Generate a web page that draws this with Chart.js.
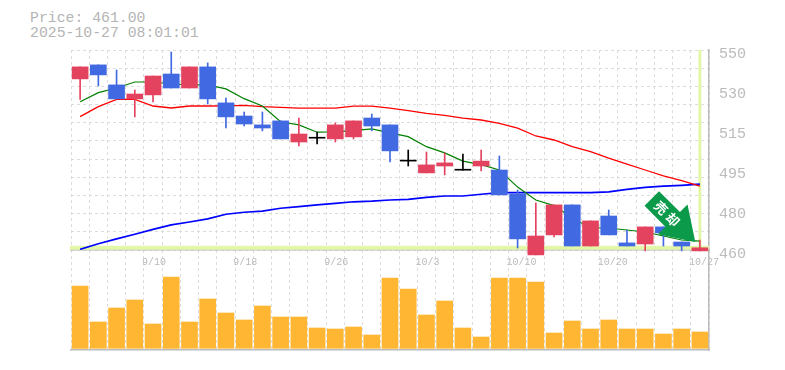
<!DOCTYPE html>
<html lang="ja">
<head>
<meta charset="utf-8">
<title>Price chart</title>
<script src="https://cdn.jsdelivr.net/npm/chart.js@4"></script>
<style>
html,body{margin:0;padding:0;background:#fff;width:785px;height:370px;overflow:hidden}
#t{position:absolute;left:30px;top:11px;font:14.8px/15px "Liberation Mono",monospace;color:#b4b4b4;white-space:pre}
canvas{position:absolute;left:0}
#a{top:0;z-index:2}
#b{top:250px;z-index:1}
</style>
</head>
<body>
<div id="t">Price: 461.00
2025-10-27 08:01:01</div>
<canvas id="b" width="785" height="120"></canvas>
<canvas id="a" width="785" height="270"></canvas>
<script>
const dates = ['9/4','9/5','9/8','9/9','9/10','9/11','9/12','9/16','9/17','9/18','9/19','9/22','9/24','9/25','9/26','9/29','9/30','10/1','10/2','10/3','10/6','10/7','10/8','10/9','10/10','10/14','10/15','10/16','10/17','10/20','10/21','10/22','10/23','10/24','10/27'];
const tickDates = ['9/10','9/18','9/26','10/3','10/10','10/20','10/27'];
const priceTickLabels = ['460','480','495','515','530','550'];

const open  = [537,543.3,534.3,528,529.8,539.2,532.9,542.4,526.2,520.3,516.3,518.1,508.6,510.3,510,510.9,519.4,516.3,500,494.7,497.8,495.9,497.8,496,485.2,457.8,466.8,480.3,461.8,475.3,463.2,462.7,470.4,463.6,459.6];
const close = [542.4,538.8,528,530.2,538.3,532.9,542.4,528,519.9,516.7,514.9,510,512.2,510.3,516.3,518.1,515.8,504.6,500,498.3,499.2,495.9,500,484.8,465,466.3,480.3,461.8,473.1,466.8,461.8,470.4,467.7,461.8,461];
const high  = [542.4,543.3,541,532,538.3,549.1,542.4,544.2,528.4,522.1,522.1,518.1,519.4,513.1,517.2,518.1,521.2,516.3,505,504.1,503.7,503.2,505,502.3,487,481.2,480.3,480.3,473.1,478,469,470.4,470.4,463.6,464.5];
const low   = [527.8,533.8,528,519.9,526.6,532.9,532.9,525.7,514.9,515.8,513.6,510,506.8,507.7,508.6,510,513.6,499.6,497.8,494.7,493.8,495.9,495.6,484.8,460.9,457.8,465.9,461.8,461.8,466.8,461.8,459.6,461.8,459.6,459.6];

const maShort = [526.7,530.8,532.9,535.6,535.6,534.7,534.3,534.3,532.5,528.1,524.8,517.7,516.3,513,513.2,513.7,514.5,512.7,511,506.5,503.7,500,498.4,496,488.3,482.5,480,474.4,469.9,469.9,469,468.1,466.3,464.5,464];
const maMid   = [520,524.5,527.8,527.8,524.8,523.9,524.8,524.8,524.9,525.1,524.5,524.2,523.8,523.8,523.8,524.7,524.7,523.8,522.7,521.5,520.6,519.3,518.5,517,514.8,511.3,509.5,506.5,504.3,501.3,498.6,496,493.4,491.2,488.7];
const maLong  = [460.3,462.8,465,467.1,469.3,471.3,472.6,474,476.1,477,477.5,478.8,479.5,480.3,481,481.7,482,482.5,482.8,483.7,484.3,484.3,485.1,485.8,485.8,485.8,485.8,485.8,485.8,486.2,487.3,488.2,488.7,489.1,489.6];

const volume = [623,263,403,483,243,713,263,493,353,283,423,313,313,203,193,213,133,703,593,333,473,203,113,703,703,663,153,273,193,283,193,193,143,193,163];

const lastPrice = 461;
const signalPrice = 463.6;
const signalText = ['売','却'];

const RED='#e3435f', BLUE='#4169e1', GREY='#bbbbbb', GRID='#dddddd', BAND='#e3f7a8', INK='#000000';
const candleColor = open.map((o,i)=> close[i]>o ? RED : close[i]<o ? BLUE : INK);
const sharedGrid = {color:GRID, lineWidth:1, drawTicks:false, offset:true};
const dash = [3,3];

const overlay = {
  id:'overlay',
  beforeDatasetsDraw(c){
    const {ctx,chartArea:a,scales:s}=c;
    const px=s.x.getPixelForValue(dates.length-1), py=s.y.getPixelForValue(lastPrice);
    ctx.save();
    ctx.fillStyle=BAND;
    ctx.fillRect(px-1.5,a.top,3,a.bottom-a.top);
    ctx.fillRect(a.left-1,py-2,a.right-a.left+1,4);
    ctx.restore();
  },
  afterDatasetsDraw(c){
    const {ctx,scales:s}=c;
    const tx=s.x.getPixelForValue(dates.length-1)-4.6, ty=s.y.getPixelForValue(signalPrice);
    ctx.save();
    ctx.translate(tx,ty);
    ctx.rotate(Math.PI/4);
    ctx.beginPath();
    ctx.moveTo(0,0);ctx.lineTo(-32,-21);ctx.lineTo(-32,-10.3);ctx.lineTo(-61.5,-10.3);
    ctx.lineTo(-61.5,10.3);ctx.lineTo(-32,10.3);ctx.lineTo(-32,21);ctx.closePath();
    ctx.fillStyle='#0a9a49';ctx.fill();
    ctx.fillStyle='#ffffff';
    ctx.font='bold 13px "Noto Sans CJK JP"';
    ctx.textAlign='center';ctx.textBaseline='middle';
    ctx.fillText(signalText[0],-48.4,0);
    ctx.fillText(signalText[1],-31.6,0);
    ctx.restore();
  }
};

new Chart(document.getElementById('a'),{
  data:{labels:dates,datasets:[
    {type:'bar',data:open.map((o,i)=>[o,close[i]]),backgroundColor:candleColor,barThickness:16,minBarLength:1,grouped:false,order:1,clip:false},
    {type:'bar',data:low.map((l,i)=>[l,high[i]]),backgroundColor:candleColor,barThickness:1,minBarLength:1,grouped:false,order:2,clip:false},
    {type:'line',data:maShort,borderColor:'#008000',borderWidth:1.2,pointRadius:0,tension:0,order:3},
    {type:'line',data:maMid,borderColor:'#ff0000',borderWidth:1.3,pointRadius:0,tension:0,order:3},
    {type:'line',data:maLong,borderColor:'#0000ff',borderWidth:1.7,pointRadius:0,tension:0,order:3}
  ]},
  options:{
    responsive:false,animation:false,
    layout:{padding:{left:71,top:50,right:0,bottom:0}},
    plugins:{legend:{display:false},tooltip:{enabled:false}},
    scales:{
      x:{offset:true,
        grid:sharedGrid,
        border:{color:GREY,width:1.5,dash:dash},
        afterFit(s){s.height=20},
        ticks:{autoSkip:false,maxRotation:0,minRotation:0,align:'start',labelOffset:-11,padding:6,color:GREY,
          font:{family:'"Liberation Mono",monospace',size:10},
          callback(v){const d=dates[v];return tickDates.includes(d)?d:''}}
      },
      y:{position:'right',min:460,max:550,
        afterFit(s){s.width=76},
        grid:{display:false},
        border:{color:GREY,width:1.5},
        ticks:{count:6,autoSkip:false,padding:2,labelOffset:4,color:GREY,
          font:{family:'"Liberation Mono",monospace',size:15},
          callback(v,i){return priceTickLabels[i]}}
      },
      yGrid:{position:'left',min:460,max:550,
        afterFit(s){s.width=0},
        grid:{color:GRID,lineWidth:1,drawTicks:false},
        border:{display:false,dash:dash},
        ticks:{count:12,display:false}
      }
    },
    elements:{bar:{borderWidth:0}}
  },
  plugins:[overlay]
});

new Chart(document.getElementById('b'),{
  data:{labels:dates,datasets:[
    {type:'bar',data:volume,backgroundColor:'#ffb733',barThickness:16}
  ]},
  options:{
    responsive:false,animation:false,
    layout:{padding:{left:71,top:0,right:0,bottom:20}},
    plugins:{legend:{display:false},tooltip:{enabled:false}},
    scales:{
      x:{offset:true,grid:sharedGrid,border:{color:GREY,width:1.5,dash:dash},ticks:{display:false,autoSkip:false},afterFit(s){s.height=0}},
      y:{position:'right',min:-17,max:983,grid:{display:false},border:{color:GREY,width:1.5},ticks:{display:false},afterFit(s){s.width=76}}
    }
  }
});
</script>
</body>
</html>
